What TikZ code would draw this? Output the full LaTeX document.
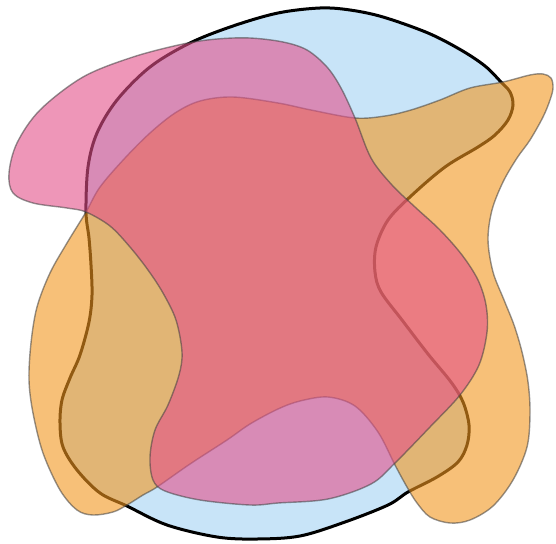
\documentclass[tikz,border=0pt]{standalone}
\definecolor{circblue}{RGB}{200,228,248}
\definecolor{blobor}{RGB}{243,150,30}
\definecolor{blobpk}{RGB}{227,80,138}
\tikzset{
  circshape/.style={draw=black, line width=3pt, fill=circblue, line join=round},
  blobshape/.style={line width=1.4pt, draw=black!75, fill opacity=0.6, draw opacity=0.55, line join=round},
}
\begin{document}
\begin{tikzpicture}[x=1pt,y=-1pt]
\fill[white] (0,0) rectangle (556,543);
\useasboundingbox (0,0) rectangle (556,543);
% blue blob with black outline
\path[circshape] plot[smooth cycle, tension=0.55] coordinates {
(86,212) (88,167) (97,133) (117,100) (150,67) (190,43) (233,26) (278,13) (320,8) (350,10) (383,17) (428,33) (461,50) (485,66) (501,82) (510,92) (513,105) (508,120) (495,135) (478,147) (445,167) (411,196) (388,220) (376,247) (375,272) (381,292) (402,320) (428,354) (451,382) (463,402) (469,425) (467,445) (458,462) (437,477) (408,492) (388,505) (345,522) (300,536) (257,539) (217,537) (167,525) (127,506) (100,493) (77,470) (63,447) (60,423) (62,400) (70,378) (80,355) (89,322) (92,295) (91,265) (89,238)};
% orange blob
\path[blobshape, fill=blobor] plot[smooth cycle, tension=0.55] coordinates {
(86,212) (100,187) (125,158) (150,133) (175,113) (200,101) (233,97) (278,103) (311,110) (355,118) (385,116) (411,110) (440,100) (470,88) (503,82) (530,75) (543,74) (551,78) (553,88) (550,100) (543,117) (530,140) (517,158) (503,182) (492,210) (488,240) (493,272) (504,300) (514,325) (522,352) (528,382) (530,413) (527,447) (513,480) (493,506) (470,520) (450,523) (430,517) (417,503) (407,487) (395,465) (378,432) (355,406) (328,397) (300,401) (278,409) (250,424) (227,440) (190,464) (157,487) (143,495) (127,505) (113,512) (93,515) (77,510) (60,490) (43,453) (33,413) (29,380) (31,343) (37,307) (50,273) (67,243)};
% pink blob
\path[blobshape, fill=blobpk] plot[smooth cycle, tension=0.55] coordinates {
(86,212) (67,208) (33,203) (13,193) (9,173) (17,143) (40,110) (83,77) (133,57) (183,44) (217,39) (250,38) (283,42) (307,50) (327,67) (341,88) (355,118) (371,158) (392,185) (415,207) (440,230) (462,255) (478,280) (486,305) (487,332) (479,365) (460,395) (430,427) (395,463) (371,484) (328,499) (278,503) (250,505) (200,500) (165,491) (153,480) (150,457) (155,430) (168,405) (179,375) (182,352) (176,320) (163,293) (148,270) (130,247) (110,226)};
\end{tikzpicture}
\end{document}
